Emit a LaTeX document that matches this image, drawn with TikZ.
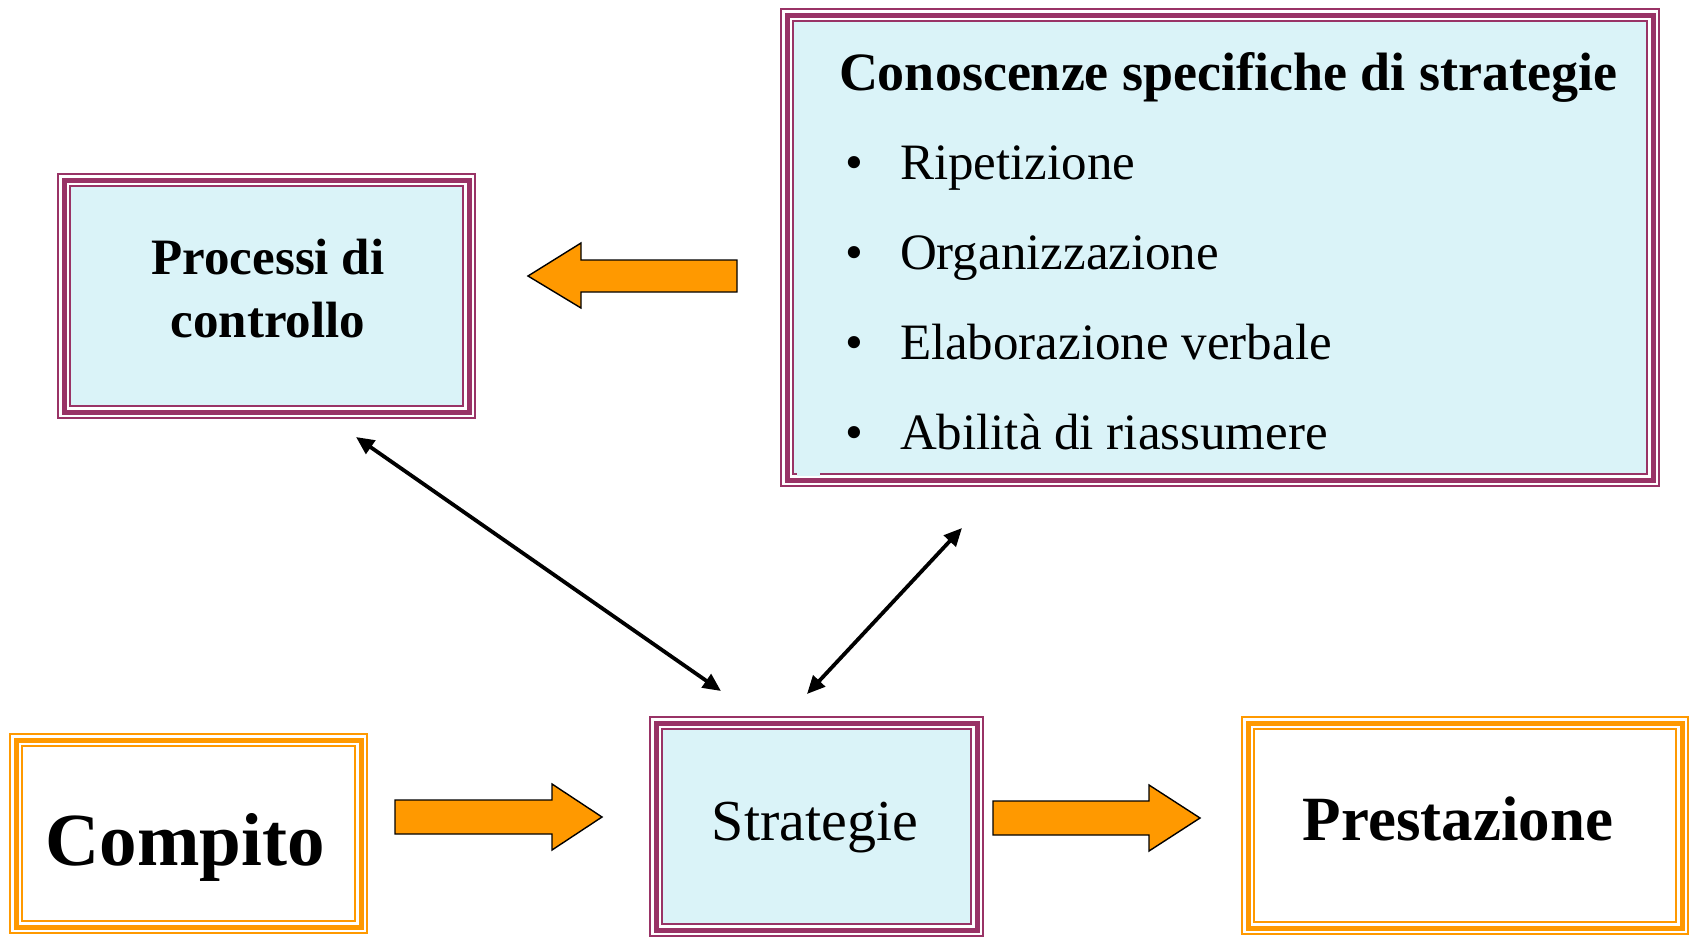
\documentclass[tikz,border=0pt]{standalone}
\usepackage{fontspec}
\setmainfont{Liberation Serif}
\usetikzlibrary{arrows.meta}
\definecolor{plum}{RGB}{153,51,102}
\definecolor{paleaqua}{RGB}{218,243,248}
\definecolor{amber}{RGB}{255,153,0}
\tikzset{
  tripleframe/.style 2 args={rectangle, inner sep=0pt, outer sep=0pt, line join=miter,
    preaction={fill=#2},
    preaction={draw=#1, line width=14pt},
    preaction={draw=white, line width=10pt},
    draw=#1, line width=5pt},
  blockarrow/.style={draw=black, fill=amber, line width=1.4pt, line join=miter},
  dblarrow/.style={draw=black, line width=3.8pt,
    {Triangle[length=18pt,width=16pt]}-{Triangle[length=18pt,width=16pt]}},
  lbl/.style={inner sep=0pt, outer sep=0pt, text=black},
}
\begin{document}
\begin{tikzpicture}[x=1pt, y=-1pt]
\useasboundingbox (0,0) rectangle (1692,937);

% framed boxes
\node[tripleframe={plum}{paleaqua}, minimum width=405pt, minimum height=232pt] (proc) at (266.5,296) {};
\node[tripleframe={plum}{paleaqua}, minimum width=866pt, minimum height=465pt] (know) at (1220,247.5) {};
\node[tripleframe={amber}{white}, minimum width=345pt, minimum height=187pt] (task) at (188.5,833.5) {};
\node[tripleframe={plum}{paleaqua}, minimum width=321pt, minimum height=207pt] (strat) at (816.5,826.5) {};
\node[tripleframe={amber}{white}, minimum width=434pt, minimum height=205pt] (perf) at (1465,825.5) {};
% small break in the inner bottom rule of the knowledge box
\fill[paleaqua] (797,472) rectangle (820,476);

% box texts
\node[lbl, anchor=base, align=center, font=\bfseries\fontsize{51}{63}\selectfont] (proctxt) at (268,337) {Processi di\\controllo};
\node[lbl, anchor=base west, font=\bfseries\fontsize{54}{60}\selectfont] (knowtxt) at (839,90) {Conoscenze specifiche di strategie};
\begin{scope}[every node/.style={lbl, anchor=base west, font=\fontsize{51}{56}\selectfont}]
  \node (b1) at (845,179) {•};
  \node (i1) at (900,179) {Ripetizione};
  \node (b2) at (845,269) {•};
  \node (i2) at (900,269) {Organizzazione};
  \node (b3) at (845,359) {•};
  \node (i3) at (900,359) {Elaborazione verbale};
  \node (b4) at (845,449) {•};
  \node (i4) at (900,449) {Abilità di riassumere};
\end{scope}
\node[lbl, anchor=base, font=\bfseries\fontsize{75}{82}\selectfont] (tasktxt) at (185,865) {Compito};
\node[lbl, anchor=base, font=\fontsize{58}{64}\selectfont] (strattxt) at (815,840) {Strategie};
\node[lbl, anchor=base, font=\bfseries\fontsize{63}{70}\selectfont] (perftxt) at (1458,840) {Prestazione};

% block arrows
\draw[blockarrow] (737,260) -- (581,260) -- (581,243) -- (528,276) -- (581,308) -- (581,292) -- (737,292) -- cycle;
\draw[blockarrow] (395,800) -- (552,800) -- (552,784) -- (602,817) -- (552,850) -- (552,834) -- (395,834) -- cycle;
\draw[blockarrow] (993,801) -- (1149,801) -- (1149,785) -- (1200,818) -- (1149,851) -- (1149,835) -- (993,835) -- cycle;

% two-way links
\coordinate (procend) at (356,437);
\coordinate (stratend) at (721,691);
\coordinate (knowend) at (962,528);
\coordinate (stratendb) at (807,694);
\draw[dblarrow] (procend) -- (stratend);
\draw[dblarrow] (knowend) -- (stratendb);
\end{tikzpicture}
\end{document}
